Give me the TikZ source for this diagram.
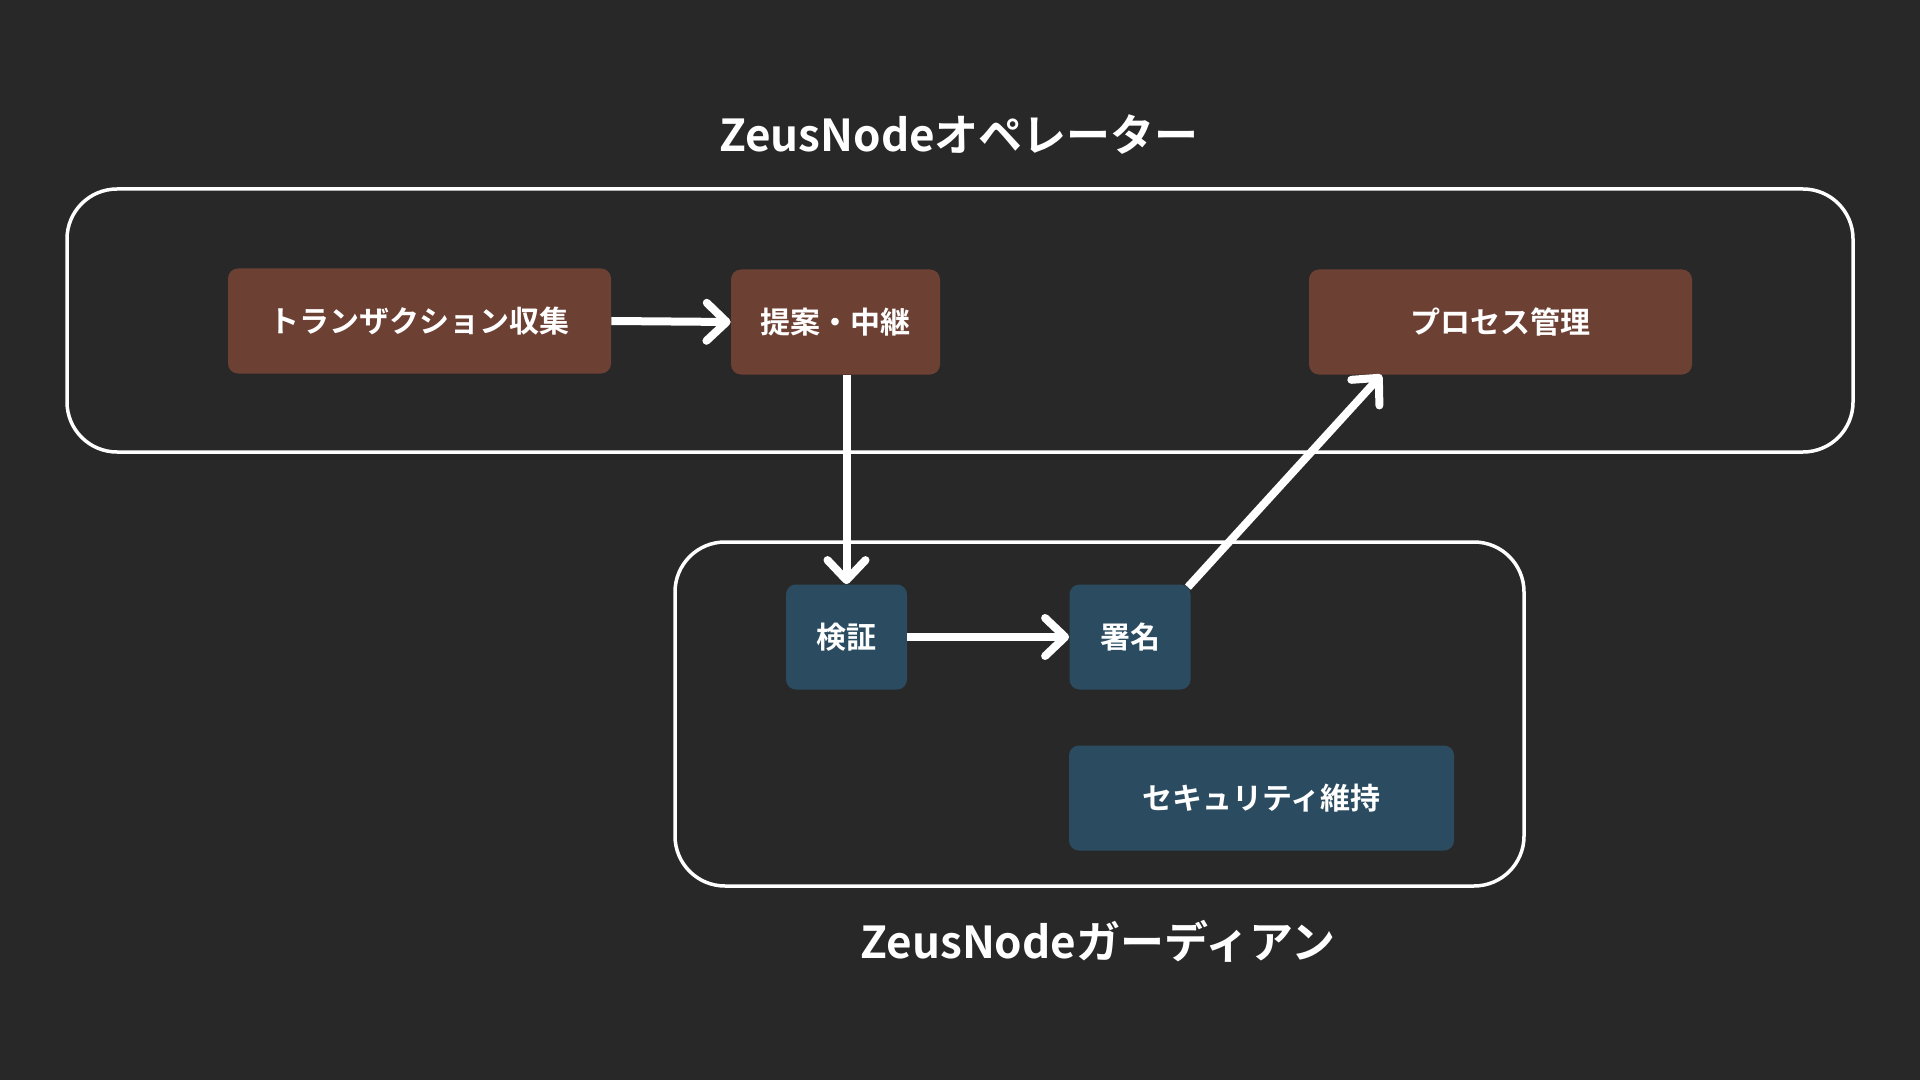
\documentclass[tikz,border=0pt]{standalone}
\usepackage{fontspec}
\setmainfont{Noto Sans CJK JP}[BoldFont={Noto Sans CJK JP Bold}]
\usetikzlibrary{arrows.meta,calc}
\definecolor{bgc}{HTML}{282828}
\definecolor{brownc}{HTML}{6D4034}
\definecolor{bluec}{HTML}{2B4C60}
\tikzset{
  opbox/.style={fill=brownc, rounded corners=5pt, text=white, font=\bfseries\fontsize{15pt}{18pt}\selectfont, inner sep=0pt},
  gdbox/.style={fill=bluec, rounded corners=5pt, text=white, font=\bfseries\fontsize{15pt}{18pt}\selectfont, inner sep=0pt},
  group/.style={draw=white, line width=1.75pt, rounded corners=25pt},
  title/.style={text=white, font=\bfseries\fontsize{22pt}{26pt}\selectfont},
  conn/.style={draw=white, line width=4pt, -{Straight Barb[length=10pt,width=19pt,round]}}
}
\begin{document}
\begin{tikzpicture}[x=0.5pt,y=-0.5pt]
\fill[bgc] (0,0) rectangle (1920,1080);
\useasboundingbox (0,0) rectangle (1920,1080);
% group boxes
\draw[group] (67,189) rectangle (1853,452);
\draw[group] (675,542) rectangle (1524,886);
\node[title] (t1) at (959,135) {ZeusNodeオペレーター};
\node[title] (t2) at (1098,941) {ZeusNodeガーディアン};
% operator nodes
\node[opbox, minimum width=191.5pt, minimum height=52.5pt] (tx) at (419.5,321) {トランザクション収集};
\node[opbox, minimum width=104.5pt, minimum height=52.5pt] (prop) at (835.5,322) {提案・中継};
\node[opbox, minimum width=191.5pt, minimum height=52.5pt] (proc) at (1500.5,322) {プロセス管理};
% guardian nodes
\node[gdbox, minimum width=60.5pt, minimum height=52.5pt] (ver) at (846.5,637) {検証};
\node[gdbox, minimum width=60.5pt, minimum height=52.5pt] (sig) at (1130,637) {署名};
\node[gdbox, minimum width=192.5pt, minimum height=52.5pt] (sec) at (1261.5,798) {セキュリティ維持};
% connectors
\draw[conn] (prop.south -| ver.north) -- (ver.north);
\draw[conn] (tx.east) -- (prop.west);
\draw[conn] (ver.east) -- (sig.west);
\draw[conn] ($(sig.north east)+(-3,3)$) -- ($(proc.south west)!0.19!(proc.south east)$);
\end{tikzpicture}
\end{document}
